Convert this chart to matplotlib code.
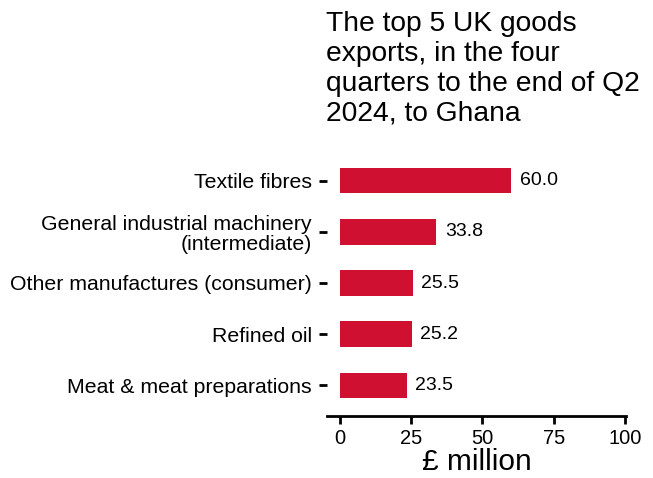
import matplotlib.pyplot as plt

categories = ["Textile fibres",
              "General industrial machinery\n(intermediate)",
              "Other manufactures (consumer)",
              "Refined oil",
              "Meat & meat preparations"]
values = [60.0, 33.8, 25.5, 25.2, 23.5]
xticks = [0, 25, 50, 75, 100]

plt.rcParams['font.family'] = ['Liberation Sans', 'DejaVu Sans']

fig = plt.figure(figsize=(6.53, 4.78), dpi=100)
ax = fig.add_axes([327 / 653, (478 - 416) / 478, (626 - 327) / 653, (416 - 150) / 478])

cats = categories[::-1]
vals = values[::-1]
pos = list(range(len(cats)))
ax.barh(pos, vals, height=0.5, color='#CF1030')
for p, v in zip(pos, vals):
    ax.text(v + 3, p, f"{v:.1f}", va='center', ha='left', fontsize=14)

ax.set_xlim(-4.5, 100.3)
ax.set_ylim(-0.6, 4.6)
ax.set_yticks(pos)
ax.set_yticklabels(cats, fontsize=15.3, linespacing=1.05)
ax.set_xticks(xticks)
ax.set_xticklabels([str(t) for t in xticks], fontsize=14.5)
ax.set_xlabel("£ million", fontsize=21.5, labelpad=0)

for s in ['top', 'right', 'left']:
    ax.spines[s].set_visible(False)
ax.spines['bottom'].set_linewidth(2)
ax.tick_params(axis='x', length=6, width=2, pad=3)
ax.tick_params(axis='y', length=6, width=2, pad=5)

fig.text(326 / 653, 1 - 11 / 478,
         "The top 5 UK goods\nexports, in the four\nquarters to the end of Q2\n2024, to Ghana",
         fontsize=20.3, ha='left', va='top', linespacing=1.2)

fig.savefig('out.png', dpi=100)
